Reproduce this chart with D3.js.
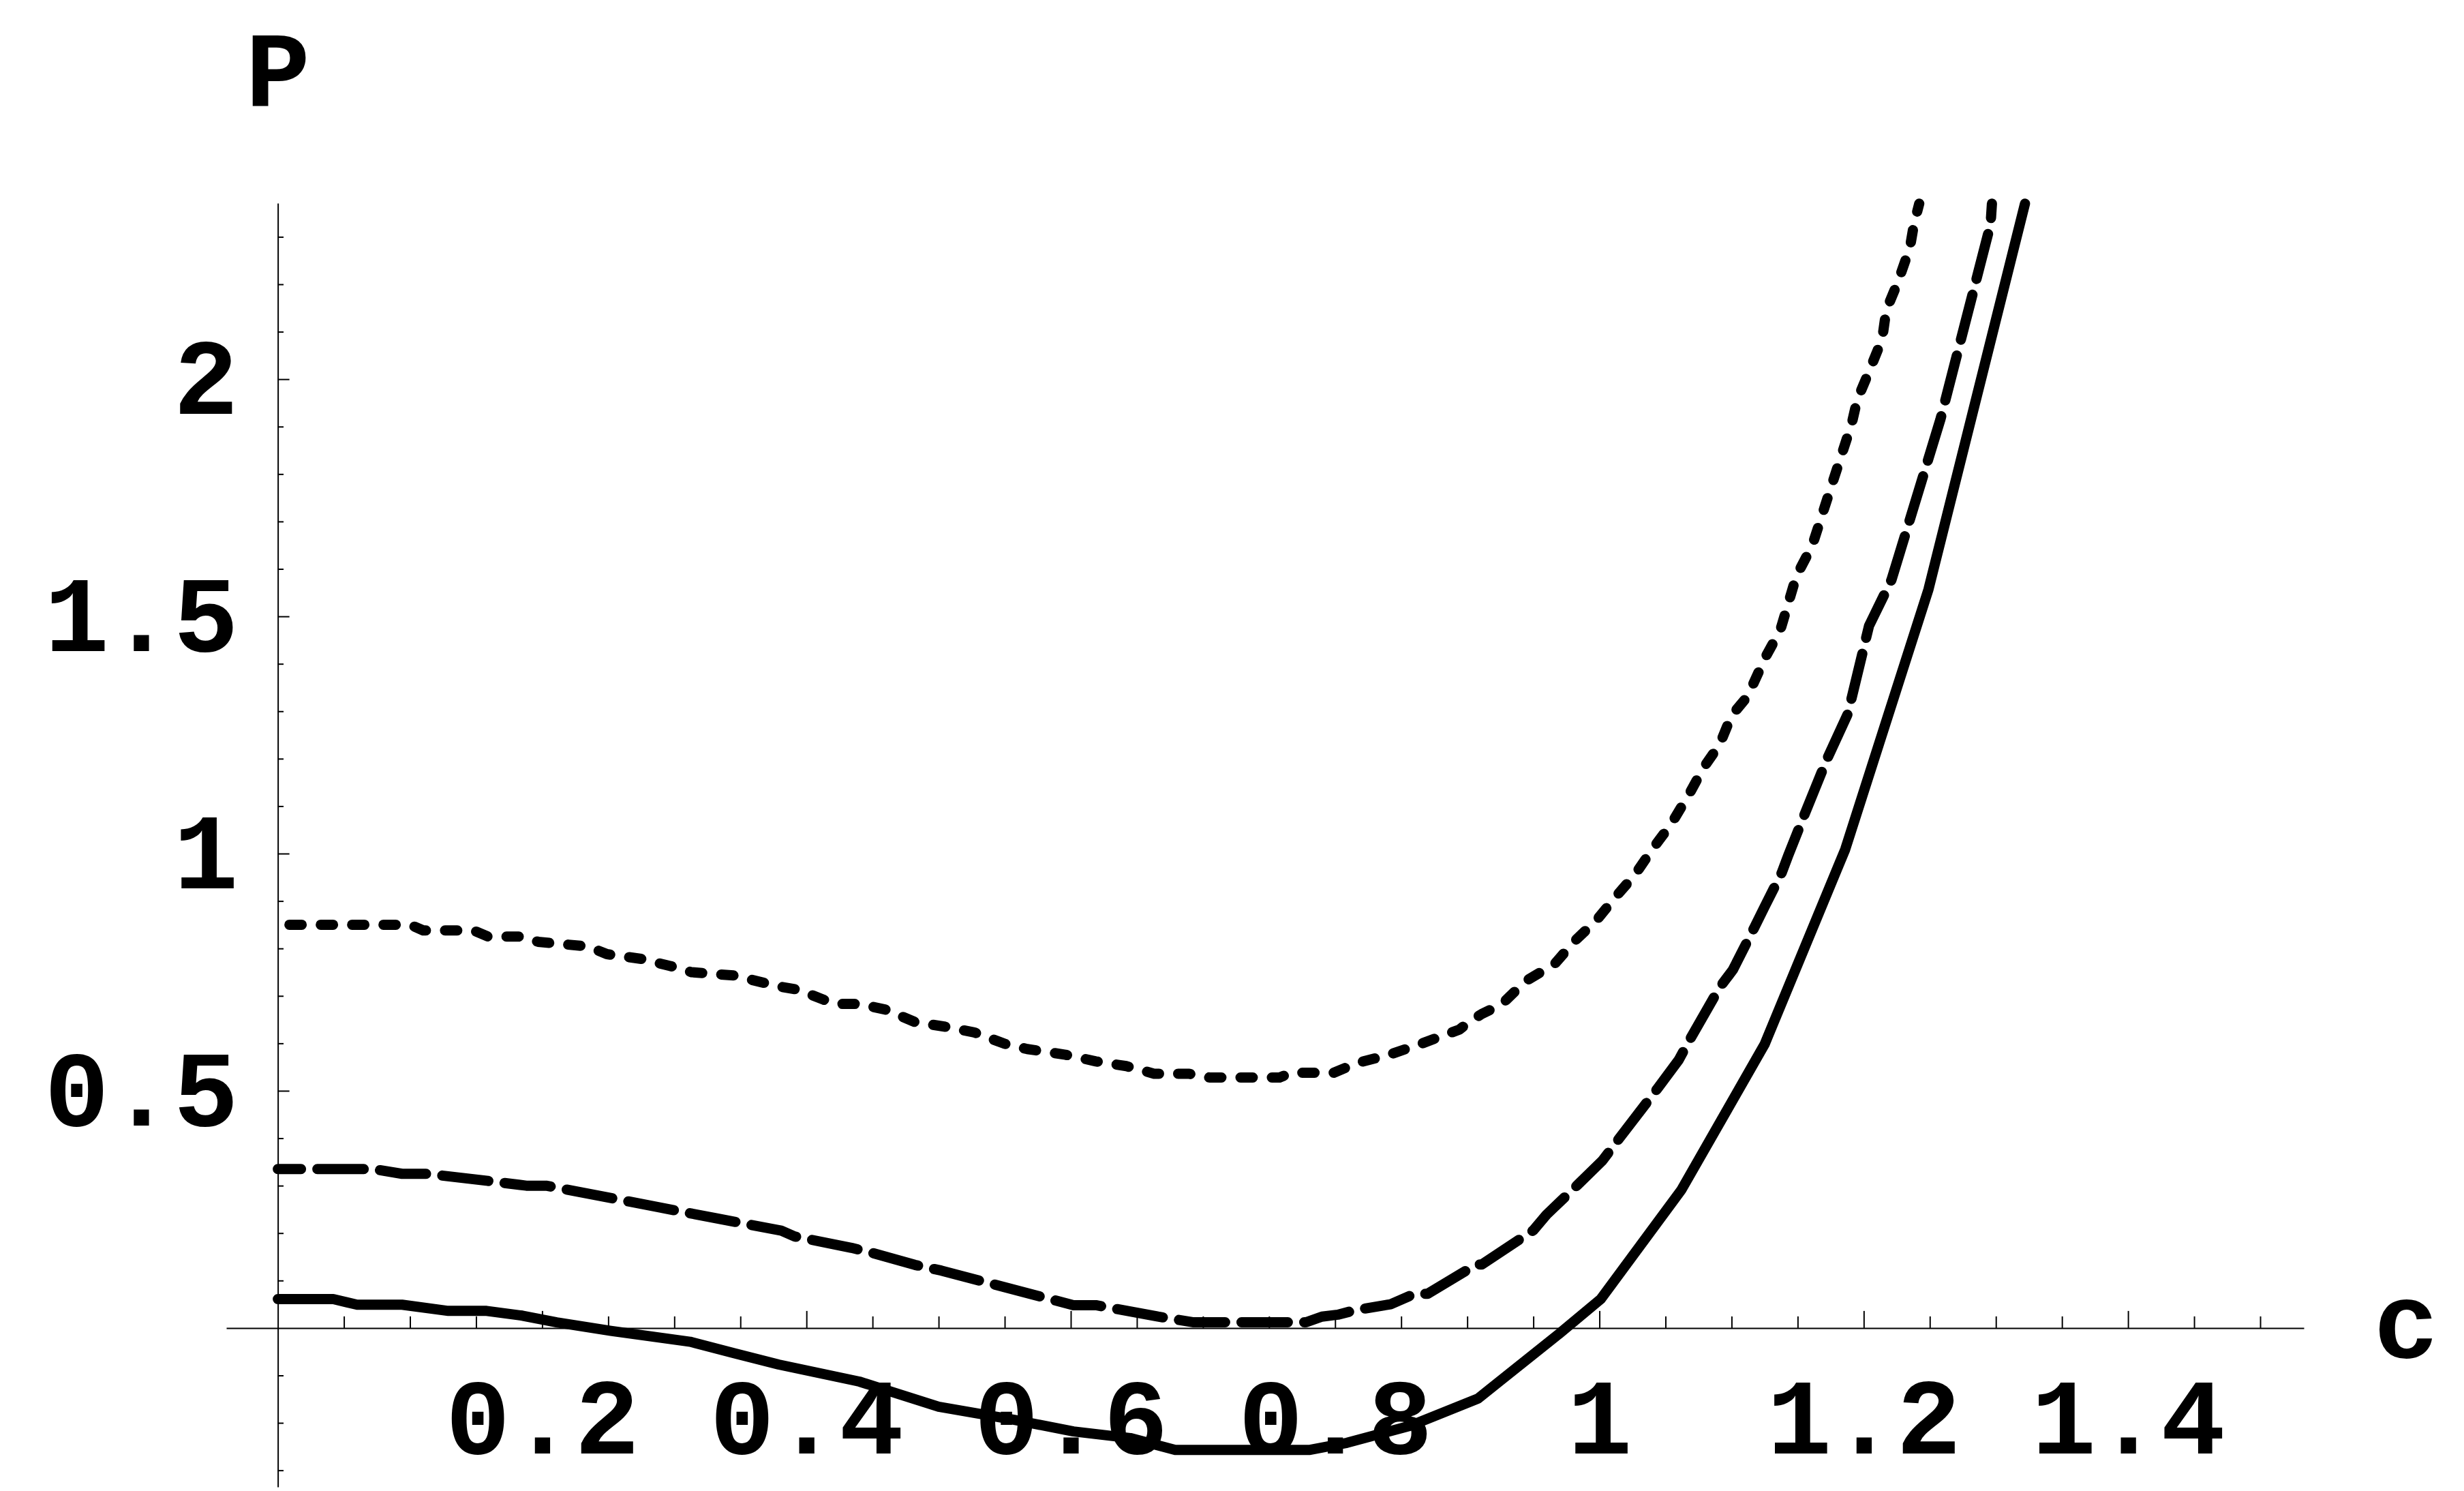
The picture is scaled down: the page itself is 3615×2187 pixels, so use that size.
<!DOCTYPE html>
<html>
<head>
<meta charset="utf-8">
<script src="https://cdn.jsdelivr.net/npm/d3@7"></script>
<style>
  html, body { margin: 0; padding: 0; background: #ffffff; }
  .label { font-family: "Liberation Mono", "Courier New", monospace; font-weight: bold; font-size: 158px; fill: #000; }
</style>
</head>
<body>
<div id="chart"></div>
<script>
// Curve data (c, P)
var solidC  = [0, 0.042, 0.060, 0.094, 0.129, 0.158, 0.185, 0.211, 0.252, 0.312, 0.345, 0.379, 0.440, 0.500, 0.558, 0.602, 0.645, 0.679, 0.781, 0.809, 0.857, 0.908, 0.970, 1.001, 1.062, 1.125, 1.186, 1.249, 1.322];
var solidP  = [0.061, 0.061, 0.049, 0.049, 0.036, 0.036, 0.026, 0.012, -0.006, -0.029, -0.053, -0.077, -0.113, -0.166, -0.194, -0.218, -0.232, -0.257, -0.257, -0.242, -0.206, -0.149, -0.011, 0.061, 0.291, 0.598, 1.009, 1.557, 2.37];

var dashedC = [0, 0.072, 0.094, 0.113, 0.159, 0.188, 0.203, 0.381, 0.391, 0.434, 0.450, 0.482, 0.502, 0.569, 0.602, 0.619, 0.666, 0.693, 0.778, 0.790, 0.802, 0.816, 0.842, 0.860, 0.870, 0.907, 0.911, 0.950, 0.960, 0.984, 1.002, 1.014, 1.044, 1.060, 1.068, 1.091, 1.101, 1.117, 1.125, 1.138, 1.143, 1.155, 1.172, 1.188, 1.204, 1.221, 1.258, 1.296, 1.297];
var dashedP = [0.335, 0.335, 0.325, 0.325, 0.310, 0.300, 0.300, 0.205, 0.193, 0.169, 0.158, 0.133, 0.121, 0.072, 0.048, 0.048, 0.024, 0.012, 0.012, 0.024, 0.028, 0.038, 0.050, 0.072, 0.072, 0.134, 0.134, 0.206, 0.239, 0.303, 0.352, 0.396, 0.505, 0.565, 0.606, 0.718, 0.755, 0.843, 0.888, 0.960, 0.997, 1.081, 1.198, 1.295, 1.480, 1.577, 1.915, 2.327, 2.37];

var dottedC = [0, 0.100, 0.110, 0.148, 0.159, 0.185, 0.197, 0.235, 0.249, 0.275, 0.297, 0.313, 0.345, 0.379, 0.394, 0.413, 0.423, 0.440, 0.460, 0.482, 0.505, 0.527, 0.550, 0.567, 0.596, 0.619, 0.642, 0.663, 0.689, 0.705, 0.758, 0.767, 0.799, 0.816, 0.841, 0.865, 0.894, 0.902, 0.911, 0.926, 0.944, 0.966, 0.981, 0.998, 1.012, 1.027, 1.041, 1.054, 1.068, 1.079, 1.091, 1.100, 1.112, 1.126, 1.137, 1.149, 1.161, 1.175, 1.191, 1.195, 1.204, 1.214, 1.217, 1.226, 1.235, 1.238, 1.242];
var dottedP = [0.850, 0.850, 0.838, 0.838, 0.825, 0.825, 0.814, 0.804, 0.788, 0.778, 0.763, 0.750, 0.743, 0.720, 0.713, 0.692, 0.683, 0.683, 0.671, 0.645, 0.635, 0.623, 0.599, 0.588, 0.576, 0.562, 0.552, 0.536, 0.536, 0.528, 0.528, 0.538, 0.538, 0.558, 0.576, 0.599, 0.629, 0.646, 0.662, 0.682, 0.731, 0.767, 0.815, 0.860, 0.908, 0.956, 1.013, 1.061, 1.126, 1.182, 1.230, 1.291, 1.331, 1.416, 1.472, 1.585, 1.649, 1.770, 1.907, 1.956, 2.016, 2.085, 2.145, 2.206, 2.278, 2.327, 2.37];

// Ticks
var xMajor = [0.2, 0.4, 0.6, 0.8, 1.0, 1.2, 1.4];
var xLabels = ["0.2", "0.4", "0.6", "0.8", "1", "1.2", "1.4"];
var xMinor = [0.05, 0.1, 0.15, 0.25, 0.3, 0.35, 0.45, 0.5, 0.55, 0.65, 0.7, 0.75, 0.85, 0.9, 0.95, 1.05, 1.1, 1.15, 1.25, 1.3, 1.35, 1.45, 1.5];
var yMajor = [0.5, 1.0, 1.5, 2.0];
var yLabels = ["0.5", "1", "1.5", "2"];
var yMinor = [-0.3, -0.2, -0.1, 0.1, 0.2, 0.3, 0.4, 0.6, 0.7, 0.8, 0.9, 1.1, 1.2, 1.3, 1.4, 1.6, 1.7, 1.8, 1.9, 2.1, 2.2, 2.3];

var width = 3615, height = 2187;

var svg = d3.select("#chart")
  .append("svg")
  .attr("width", width)
  .attr("height", height)
  .style("display", "block");

svg.append("rect").attr("width", width).attr("height", height).attr("fill", "#fff");

// Scales (axis line extents = plot range)
var xScale = d3.scaleLinear()
  .domain([-0.039, 1.533])
  .range([332, 3380]);

var yScale = d3.scaleLinear()
  .domain([-0.335, 2.371])
  .range([2181, 298]);

var x0 = xScale(0), y0 = yScale(0);

function styleAxis(g) {
  g.selectAll("path.domain").attr("stroke", "#000").attr("stroke-width", 2);
  g.selectAll(".tick line").attr("stroke", "#000").attr("stroke-width", 2);
}

// x axis: line + ticks pointing up
var xMinorAxis = d3.axisTop(xScale).tickValues(xMinor).tickSize(17).tickSizeOuter(0).tickFormat("");
var xMajorAxis = d3.axisTop(xScale).tickValues(xMajor).tickSize(25).tickSizeOuter(0).tickFormat("");

svg.append("g").attr("transform", "translate(0," + y0 + ")").call(xMinorAxis).call(styleAxis);
svg.append("g").attr("transform", "translate(0," + y0 + ")").call(xMajorAxis).call(styleAxis)
  .select("path.domain").remove();

// x labels
var xLabelAxis = d3.axisBottom(xScale).tickValues(xMajor).tickSize(0).tickPadding(72)
  .tickFormat(function(d, i) { return xLabels[i]; });
var xl = svg.append("g").attr("transform", "translate(0," + y0 + ")").call(xLabelAxis);
xl.select("path.domain").remove();
xl.attr("font-family", null).attr("font-size", null);
xl.selectAll("text").attr("class", "label").attr("fill", "#000");

// y axis: line + ticks pointing right
var yMinorAxis = d3.axisRight(yScale).tickValues(yMinor).tickSize(8.4).tickSizeOuter(0).tickFormat("");
var yMajorAxis = d3.axisRight(yScale).tickValues(yMajor).tickSize(17).tickSizeOuter(0).tickFormat("");

svg.append("g").attr("transform", "translate(" + x0 + ",0)").call(yMinorAxis).call(styleAxis);
svg.append("g").attr("transform", "translate(" + x0 + ",0)").call(yMajorAxis).call(styleAxis)
  .select("path.domain").remove();

// y labels
var yLabelAxis = d3.axisLeft(yScale).tickValues(yMajor).tickSize(0).tickPadding(58)
  .tickFormat(function(d, i) { return yLabels[i]; });
var yl = svg.append("g").attr("transform", "translate(" + x0 + ",0)").call(yLabelAxis);
yl.select("path.domain").remove();
yl.attr("font-family", null).attr("font-size", null);
yl.selectAll("text").attr("class", "label").attr("fill", "#000");

// axis titles
svg.append("text")
  .attr("class", "label")
  .attr("x", x0)
  .attr("y", 156)
  .attr("text-anchor", "middle")
  .text("P");

svg.append("text")
  .attr("class", "label")
  .attr("x", 3530)
  .attr("y", 1991)
  .attr("text-anchor", "middle")
  .text("c");

// curves
var line = d3.line()
  .x(function(d) { return xScale(d[0]); })
  .y(function(d) { return yScale(d[1]); });

function zipCurve(cs, ps) {
  return cs.map(function(c, i) { return [c, ps[i]]; });
}

var curves = [
  { name: "dotted", data: zipCurve(dottedC, dottedP), dash: "18,28", offset: 29 },
  { name: "dashed", data: zipCurve(dashedC, dashedP), dash: "68,24", offset: 34 },
  { name: "solid",  data: zipCurve(solidC, solidP),   dash: null,    offset: 0 }
];

svg.selectAll(".curve")
  .data(curves)
  .enter()
  .append("path")
  .attr("class", "curve")
  .attr("d", function(d) { return line(d.data); })
  .attr("fill", "none")
  .attr("stroke", "#000")
  .attr("stroke-width", 15)
  .attr("stroke-linecap", "round")
  .attr("stroke-linejoin", "round")
  .attr("stroke-dasharray", function(d) { return d.dash; })
  .attr("stroke-dashoffset", function(d) { return d.offset; });
</script>
</body>
</html>
